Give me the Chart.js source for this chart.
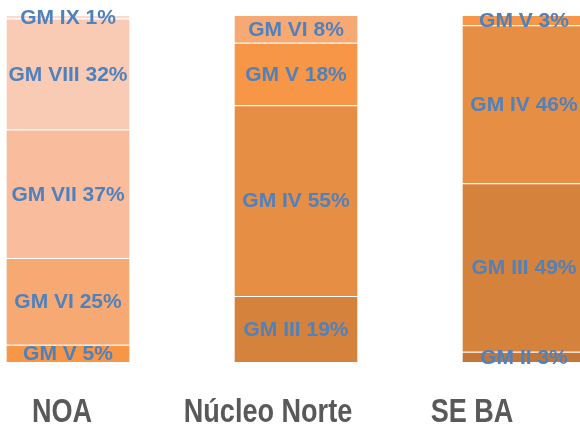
<!DOCTYPE html>
<html>
<head>
<meta charset="utf-8">
<script src="https://cdn.jsdelivr.net/npm/chart.js@4.4.0/dist/chart.umd.min.js"></script>
<style>
  html, body { margin: 0; padding: 0; background: #fff; overflow: hidden; }
  #wrap { position: absolute; left: -46px; top: 0; width: 684px; height: 424px; }
</style>
</head>
<body>
<div id="wrap"><canvas id="gmChart"></canvas></div>
<script>
// categories and GM class shares (%) per region
const regions = ['NOA', 'Núcleo Norte', 'SE BA'];
const gmClasses = ['GM II', 'GM III', 'GM IV', 'GM V', 'GM VI', 'GM VII', 'GM VIII', 'GM IX'];
const gmII   = [0, 0, 3];
const gmIII  = [0, 19, 49];
const gmIV   = [0, 55, 46];
const gmV    = [5, 18, 3];
const gmVI   = [25, 8, 0];
const gmVII  = [37, 0, 0];
const gmVIII = [32, 0, 0];
const gmIX   = [1, 0, 0];
const classColors = ['#C57636', '#D5823C', '#E78E45', '#F79646', '#F7A974', '#F9BC9C', '#F9CBB5', '#FBDACB'];
// horizontal shift of each region label relative to its bar (text boxes in the original)
const labelShift = [-6, -28, -52];

const series = [gmII, gmIII, gmIV, gmV, gmVI, gmVII, gmVIII, gmIX];

// 100% stacked: normalise each column to its total
const totals = regions.map((r, i) => series.reduce((s, arr) => s + arr[i], 0));

const datasets = series.map((arr, k) => ({
    label: gmClasses[k],
    raw: arr,
    data: arr.map((v, i) => v * 100 / totals[i]),
    backgroundColor: classColors[k],
    borderColor: 'rgba(255,255,255,0.22)',
    borderWidth: { top: 1 },
    borderSkipped: false,
    barPercentage: 0.54,
    categoryPercentage: 1
}));

// draws "GM X n%" centred in each segment
const segmentLabels = {
    id: 'segmentLabels',
    afterDatasetsDraw(chart) {
        const ctx = chart.ctx;
        ctx.save();
        ctx.font = 'bold 21px "Liberation Sans", Arial, sans-serif';
        ctx.fillStyle = '#4F81BD';
        ctx.textAlign = 'center';
        ctx.textBaseline = 'middle';
        chart.data.datasets.forEach((ds, k) => {
            const meta = chart.getDatasetMeta(k);
            meta.data.forEach((bar, i) => {
                if (!ds.raw[i]) return;
                const y = (bar.y + bar.base) / 2;
                ctx.fillText(ds.label + ' ' + ds.raw[i] + '%', bar.x, y + 1);
            });
        });
        ctx.restore();
    }
};

// region names under the bars (condensed by a horizontal scale)
const regionLabels = {
    id: 'regionLabels',
    afterDraw(chart) {
        const ctx = chart.ctx;
        const x = chart.scales.x;
        const squeeze = 0.82;
        ctx.save();
        ctx.font = 'bold 33px "Liberation Sans", Arial, sans-serif';
        ctx.fillStyle = '#595959';
        ctx.textAlign = 'center';
        ctx.textBaseline = 'alphabetic';
        regions.forEach((r, i) => {
            ctx.save();
            ctx.translate(x.getPixelForValue(i) + labelShift[i], 422);
            ctx.scale(squeeze, 1);
            ctx.fillText(r, 0, 0);
            ctx.restore();
        });
        ctx.restore();
    }
};

new Chart(document.getElementById('gmChart'), {
    type: 'bar',
    data: { labels: regions, datasets: datasets },
    options: {
        responsive: true,
        maintainAspectRatio: false,
        animation: false,
        layout: { padding: { top: 15, bottom: 62, left: 0, right: 0 } },
        scales: {
            x: { stacked: true, display: false },
            y: { stacked: true, display: false, min: 0, max: 100 }
        },
        plugins: {
            legend: { display: false },
            tooltip: { enabled: false }
        }
    },
    plugins: [segmentLabels, regionLabels]
});
</script>
</body>
</html>
